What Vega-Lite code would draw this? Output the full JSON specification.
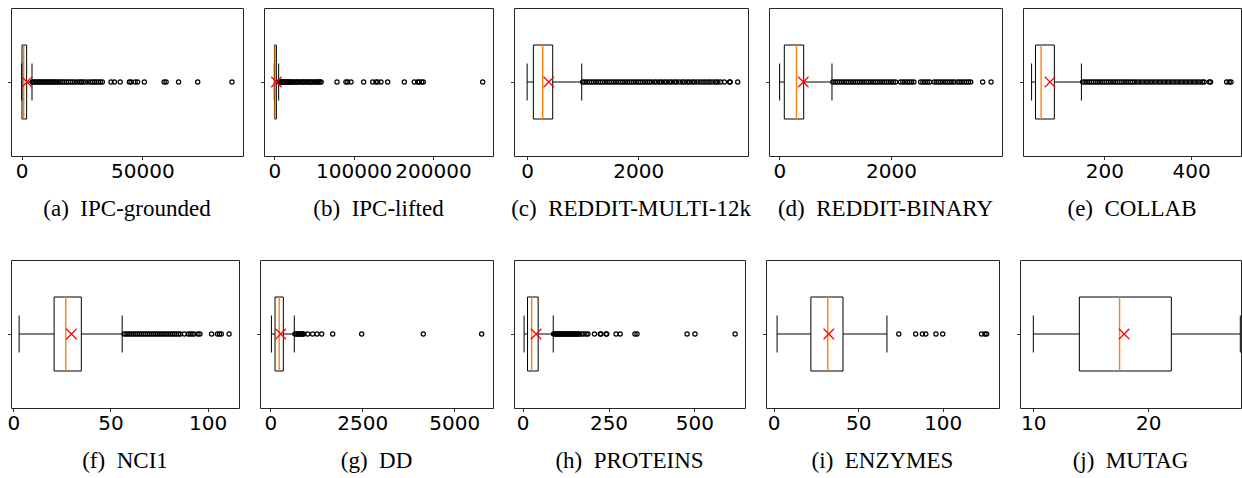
{
"$schema": "https://vega.github.io/schema/vega-lite/v6.json",
"padding": {"left": 6, "top": 7, "right": 0, "bottom": 0},
"background": "white",
"datasets": {
"stats": [
{"ds":"a","lo":0,"q1":120,"med":830,"q3":2050,"hi":4270,"mean":2190},
{"ds":"b","lo":0,"q1":200,"med":1000,"q3":2600,"hi":5500,"mean":2700},
{"ds":"c","lo":2,"q1":114,"med":282,"q3":462,"hi":983,"mean":391},
{"ds":"d","lo":6,"q1":90,"med":308,"q3":437,"hi":943,"mean":430},
{"ds":"e","lo":32,"q1":41,"med":54,"q3":84.5,"hi":147,"mean":74.5},
{"ds":"f","lo":3,"q1":21,"med":27,"q3":35,"hi":56,"mean":29.9},
{"ds":"g","lo":30,"q1":128,"med":241,"q3":354,"hi":652,"mean":284},
{"ds":"h","lo":4,"q1":14,"med":26,"q3":45,"hi":89,"mean":39},
{"ds":"i","lo":2,"q1":22,"med":32,"q3":41,"hi":67,"mean":32.6},
{"ds":"j","lo":10,"q1":14,"med":17.5,"q3":22,"hi":28,"mean":17.9}
],
"out": [
{"ds":"a","v":4400},{"ds":"a","v":5000},{"ds":"a","v":5600},{"ds":"a","v":6200},{"ds":"a","v":6800},{"ds":"a","v":7400},{"ds":"a","v":8000},{"ds":"a","v":8600},{"ds":"a","v":9200},{"ds":"a","v":9800},{"ds":"a","v":10400},{"ds":"a","v":11000},{"ds":"a","v":11600},{"ds":"a","v":12200},{"ds":"a","v":12800},{"ds":"a","v":13400},{"ds":"a","v":14000},{"ds":"a","v":14700},{"ds":"a","v":15400},{"ds":"a","v":16100},{"ds":"a","v":16900},{"ds":"a","v":17700},{"ds":"a","v":18500},{"ds":"a","v":19300},{"ds":"a","v":20200},{"ds":"a","v":21100},{"ds":"a","v":22000},{"ds":"a","v":23000},{"ds":"a","v":24000},{"ds":"a","v":24600},{"ds":"a","v":25400},{"ds":"a","v":26400},{"ds":"a","v":27500},{"ds":"a","v":28600},{"ds":"a","v":29400},{"ds":"a","v":30200},{"ds":"a","v":31000},{"ds":"a","v":31800},{"ds":"a","v":32600},{"ds":"a","v":33400},{"ds":"a","v":37000},{"ds":"a","v":38400},{"ds":"a","v":40800},{"ds":"a","v":44600},{"ds":"a","v":45300},{"ds":"a","v":47000},{"ds":"a","v":48000},{"ds":"a","v":50800},{"ds":"a","v":59000},{"ds":"a","v":59800},{"ds":"a","v":65000},{"ds":"a","v":72900},{"ds":"a","v":87100},
{"ds":"b","v":5900},{"ds":"b","v":7000},{"ds":"b","v":8200},{"ds":"b","v":9400},{"ds":"b","v":10600},{"ds":"b","v":11800},{"ds":"b","v":13000},{"ds":"b","v":14200},{"ds":"b","v":15400},{"ds":"b","v":16600},{"ds":"b","v":17800},{"ds":"b","v":19000},{"ds":"b","v":20500},{"ds":"b","v":22000},{"ds":"b","v":24000},{"ds":"b","v":26000},{"ds":"b","v":27500},{"ds":"b","v":29000},{"ds":"b","v":31000},{"ds":"b","v":33000},{"ds":"b","v":35000},{"ds":"b","v":36500},{"ds":"b","v":38000},{"ds":"b","v":40000},{"ds":"b","v":42000},{"ds":"b","v":44000},{"ds":"b","v":45500},{"ds":"b","v":47000},{"ds":"b","v":49000},{"ds":"b","v":51000},{"ds":"b","v":53000},{"ds":"b","v":54500},{"ds":"b","v":56000},{"ds":"b","v":57500},{"ds":"b","v":59000},{"ds":"b","v":79000},{"ds":"b","v":90300},{"ds":"b","v":92500},{"ds":"b","v":96600},{"ds":"b","v":112600},{"ds":"b","v":124000},{"ds":"b","v":128100},{"ds":"b","v":130300},{"ds":"b","v":134400},{"ds":"b","v":142900},{"ds":"b","v":163800},{"ds":"b","v":176400},{"ds":"b","v":180700},{"ds":"b","v":182700},{"ds":"b","v":185700},{"ds":"b","v":187700},{"ds":"b","v":262600},
{"ds":"c","v":1000},{"ds":"c","v":1040},{"ds":"c","v":1080},{"ds":"c","v":1120},{"ds":"c","v":1160},{"ds":"c","v":1200},{"ds":"c","v":1240},{"ds":"c","v":1280},{"ds":"c","v":1320},{"ds":"c","v":1360},{"ds":"c","v":1400},{"ds":"c","v":1440},{"ds":"c","v":1480},{"ds":"c","v":1520},{"ds":"c","v":1560},{"ds":"c","v":1600},{"ds":"c","v":1640},{"ds":"c","v":1680},{"ds":"c","v":1720},{"ds":"c","v":1760},{"ds":"c","v":1800},{"ds":"c","v":1840},{"ds":"c","v":1880},{"ds":"c","v":1920},{"ds":"c","v":1960},{"ds":"c","v":2000},{"ds":"c","v":2040},{"ds":"c","v":2080},{"ds":"c","v":2120},{"ds":"c","v":2160},{"ds":"c","v":2200},{"ds":"c","v":2240},{"ds":"c","v":2290},{"ds":"c","v":2330},{"ds":"c","v":2380},{"ds":"c","v":2420},{"ds":"c","v":2470},{"ds":"c","v":2510},{"ds":"c","v":2560},{"ds":"c","v":2600},{"ds":"c","v":2650},{"ds":"c","v":2690},{"ds":"c","v":2740},{"ds":"c","v":2790},{"ds":"c","v":2830},{"ds":"c","v":2880},{"ds":"c","v":2920},{"ds":"c","v":2970},{"ds":"c","v":3010},{"ds":"c","v":3060},{"ds":"c","v":3110},{"ds":"c","v":3160},{"ds":"c","v":3200},{"ds":"c","v":3250},{"ds":"c","v":3290},{"ds":"c","v":3340},{"ds":"c","v":3390},{"ds":"c","v":3430},{"ds":"c","v":3480},{"ds":"c","v":3546},{"ds":"c","v":3640},{"ds":"c","v":3650},{"ds":"c","v":3786},
{"ds":"d","v":960},{"ds":"d","v":1000},{"ds":"d","v":1040},{"ds":"d","v":1080},{"ds":"d","v":1120},{"ds":"d","v":1160},{"ds":"d","v":1200},{"ds":"d","v":1240},{"ds":"d","v":1280},{"ds":"d","v":1320},{"ds":"d","v":1360},{"ds":"d","v":1400},{"ds":"d","v":1440},{"ds":"d","v":1480},{"ds":"d","v":1520},{"ds":"d","v":1560},{"ds":"d","v":1600},{"ds":"d","v":1640},{"ds":"d","v":1680},{"ds":"d","v":1720},{"ds":"d","v":1760},{"ds":"d","v":1800},{"ds":"d","v":1840},{"ds":"d","v":1880},{"ds":"d","v":1920},{"ds":"d","v":1960},{"ds":"d","v":2000},{"ds":"d","v":2040},{"ds":"d","v":2080},{"ds":"d","v":2170},{"ds":"d","v":2210},{"ds":"d","v":2250},{"ds":"d","v":2290},{"ds":"d","v":2330},{"ds":"d","v":2370},{"ds":"d","v":2410},{"ds":"d","v":2530},{"ds":"d","v":2570},{"ds":"d","v":2610},{"ds":"d","v":2650},{"ds":"d","v":2690},{"ds":"d","v":2770},{"ds":"d","v":2810},{"ds":"d","v":2850},{"ds":"d","v":2890},{"ds":"d","v":2930},{"ds":"d","v":2970},{"ds":"d","v":3010},{"ds":"d","v":3050},{"ds":"d","v":3090},{"ds":"d","v":3130},{"ds":"d","v":3190},{"ds":"d","v":3230},{"ds":"d","v":3270},{"ds":"d","v":3310},{"ds":"d","v":3350},{"ds":"d","v":3390},{"ds":"d","v":3426},{"ds":"d","v":3640},{"ds":"d","v":3790},
{"ds":"e","v":150},{"ds":"e","v":155},{"ds":"e","v":160},{"ds":"e","v":165},{"ds":"e","v":170},{"ds":"e","v":175},{"ds":"e","v":180},{"ds":"e","v":185},{"ds":"e","v":190},{"ds":"e","v":195},{"ds":"e","v":200},{"ds":"e","v":205},{"ds":"e","v":210},{"ds":"e","v":215},{"ds":"e","v":220},{"ds":"e","v":225},{"ds":"e","v":230},{"ds":"e","v":235},{"ds":"e","v":240},{"ds":"e","v":245},{"ds":"e","v":250},{"ds":"e","v":255},{"ds":"e","v":260},{"ds":"e","v":265},{"ds":"e","v":270},{"ds":"e","v":276},{"ds":"e","v":282},{"ds":"e","v":288},{"ds":"e","v":294},{"ds":"e","v":300},{"ds":"e","v":306},{"ds":"e","v":312},{"ds":"e","v":318},{"ds":"e","v":324},{"ds":"e","v":330},{"ds":"e","v":336},{"ds":"e","v":342},{"ds":"e","v":348},{"ds":"e","v":354},{"ds":"e","v":360},{"ds":"e","v":366},{"ds":"e","v":372},{"ds":"e","v":378},{"ds":"e","v":384},{"ds":"e","v":390},{"ds":"e","v":396},{"ds":"e","v":402},{"ds":"e","v":408},{"ds":"e","v":414},{"ds":"e","v":420},{"ds":"e","v":426},{"ds":"e","v":430},{"ds":"e","v":442},{"ds":"e","v":445},{"ds":"e","v":482},{"ds":"e","v":488},{"ds":"e","v":492},
{"ds":"f","v":57},{"ds":"f","v":58},{"ds":"f","v":59},{"ds":"f","v":60},{"ds":"f","v":61},{"ds":"f","v":62},{"ds":"f","v":63},{"ds":"f","v":64},{"ds":"f","v":65},{"ds":"f","v":66},{"ds":"f","v":67},{"ds":"f","v":68},{"ds":"f","v":69},{"ds":"f","v":70},{"ds":"f","v":71},{"ds":"f","v":72},{"ds":"f","v":73},{"ds":"f","v":74},{"ds":"f","v":75},{"ds":"f","v":76},{"ds":"f","v":77},{"ds":"f","v":78},{"ds":"f","v":79},{"ds":"f","v":80},{"ds":"f","v":81},{"ds":"f","v":82},{"ds":"f","v":83},{"ds":"f","v":84},{"ds":"f","v":85},{"ds":"f","v":86},{"ds":"f","v":88},{"ds":"f","v":90},{"ds":"f","v":91},{"ds":"f","v":92},{"ds":"f","v":93},{"ds":"f","v":95},{"ds":"f","v":96},{"ds":"f","v":102},{"ds":"f","v":105},{"ds":"f","v":106},{"ds":"f","v":107},{"ds":"f","v":111},
{"ds":"g","v":670},{"ds":"g","v":700},{"ds":"g","v":730},{"ds":"g","v":760},{"ds":"g","v":790},{"ds":"g","v":820},{"ds":"g","v":850},{"ds":"g","v":880},{"ds":"g","v":910},{"ds":"g","v":1016},{"ds":"g","v":1152},{"ds":"g","v":1269},{"ds":"g","v":1397},{"ds":"g","v":1695},{"ds":"g","v":2483},{"ds":"g","v":4157},{"ds":"g","v":5743},
{"ds":"h","v":90},{"ds":"h","v":93},{"ds":"h","v":96},{"ds":"h","v":99},{"ds":"h","v":102},{"ds":"h","v":105},{"ds":"h","v":108},{"ds":"h","v":111},{"ds":"h","v":114},{"ds":"h","v":117},{"ds":"h","v":120},{"ds":"h","v":123},{"ds":"h","v":126},{"ds":"h","v":129},{"ds":"h","v":132},{"ds":"h","v":135},{"ds":"h","v":138},{"ds":"h","v":141},{"ds":"h","v":144},{"ds":"h","v":147},{"ds":"h","v":150},{"ds":"h","v":153},{"ds":"h","v":156},{"ds":"h","v":159},{"ds":"h","v":162},{"ds":"h","v":165},{"ds":"h","v":172},{"ds":"h","v":178},{"ds":"h","v":185},{"ds":"h","v":190},{"ds":"h","v":209},{"ds":"h","v":226},{"ds":"h","v":228},{"ds":"h","v":243},{"ds":"h","v":245},{"ds":"h","v":272},{"ds":"h","v":284},{"ds":"h","v":327},{"ds":"h","v":333},{"ds":"h","v":479},{"ds":"h","v":502},{"ds":"h","v":619},
{"ds":"i","v":74},{"ds":"i","v":84},{"ds":"i","v":88},{"ds":"i","v":90},{"ds":"i","v":96},{"ds":"i","v":100},{"ds":"i","v":123},{"ds":"i","v":125},{"ds":"i","v":126}
]
},
"vconcat": [
{"hconcat": [
{"width": 232, "height": 148, "title": "(a)\u00a0 IPC-grounded", "data": {"name": "stats"}, "transform": [{"filter": "datum.ds === 'a'"}],
 "layer": [
 {"mark": "rule", "encoding": {"x": {"field": "lo", "type": "quantitative", "scale": {"domain": [-4432, 91663], "nice": false, "zero": false}, "axis": {"values": [0, 50000], "title": null}}, "x2": {"field": "hi"}, "y": {"datum": 1, "type": "quantitative", "scale": {"domain": [0.5, 1.5], "nice": false, "zero": false}, "axis": {"values": [1], "labels": false, "title": null}}}},
 {"mark": {"type": "rect", "fill": "white", "stroke": "black", "strokeWidth": 1}, "encoding": {"x": {"field": "q1", "type": "quantitative"}, "x2": {"field": "q3"}, "y": {"datum": 0.75}, "y2": {"datum": 1.25}}},
 {"mark": "rule", "encoding": {"x": {"field": "lo", "type": "quantitative"}, "y": {"datum": 0.875}, "y2": {"datum": 1.125}}},
 {"mark": "rule", "encoding": {"x": {"field": "hi", "type": "quantitative"}, "y": {"datum": 0.875}, "y2": {"datum": 1.125}}},
 {"mark": {"type": "rule", "color": "#ff7f0e", "strokeWidth": 1.4}, "encoding": {"x": {"field": "med", "type": "quantitative"}, "y": {"datum": 0.75}, "y2": {"datum": 1.25}}},
 {"data": {"name": "out"}, "transform": [{"filter": "datum.ds === 'a'"}], "mark": {"type": "point", "shape": "circle", "filled": false, "stroke": "black", "strokeWidth": 1.2, "size": 18, "opacity": 1}, "encoding": {"x": {"field": "v", "type": "quantitative"}, "y": {"datum": 1}}},
 {"mark": {"type": "point", "shape": "M-1,-1L1,1M-1,1L1,-1", "filled": false, "stroke": "red", "strokeWidth": 1.2, "size": 110, "opacity": 1}, "encoding": {"x": {"field": "mean", "type": "quantitative"}, "y": {"datum": 1}}}
 ]},
{"width": 229, "height": 148, "title": "(b)\u00a0 IPC-lifted", "data": {"name": "stats"}, "transform": [{"filter": "datum.ds === 'b'"}],
 "layer": [
 {"mark": "rule", "encoding": {"x": {"field": "lo", "type": "quantitative", "scale": {"domain": [-12978, 275562], "nice": false, "zero": false}, "axis": {"values": [0, 100000, 200000], "title": null}}, "x2": {"field": "hi"}, "y": {"datum": 1, "type": "quantitative", "scale": {"domain": [0.5, 1.5], "nice": false, "zero": false}, "axis": {"values": [1], "labels": false, "title": null}}}},
 {"mark": {"type": "rect", "fill": "white", "stroke": "black", "strokeWidth": 1}, "encoding": {"x": {"field": "q1", "type": "quantitative"}, "x2": {"field": "q3"}, "y": {"datum": 0.75}, "y2": {"datum": 1.25}}},
 {"mark": "rule", "encoding": {"x": {"field": "lo", "type": "quantitative"}, "y": {"datum": 0.875}, "y2": {"datum": 1.125}}},
 {"mark": "rule", "encoding": {"x": {"field": "hi", "type": "quantitative"}, "y": {"datum": 0.875}, "y2": {"datum": 1.125}}},
 {"mark": {"type": "rule", "color": "#ff7f0e", "strokeWidth": 1.4}, "encoding": {"x": {"field": "med", "type": "quantitative"}, "y": {"datum": 0.75}, "y2": {"datum": 1.25}}},
 {"data": {"name": "out"}, "transform": [{"filter": "datum.ds === 'b'"}], "mark": {"type": "point", "shape": "circle", "filled": false, "stroke": "black", "strokeWidth": 1.2, "size": 18, "opacity": 1}, "encoding": {"x": {"field": "v", "type": "quantitative"}, "y": {"datum": 1}}},
 {"mark": {"type": "point", "shape": "M-1,-1L1,1M-1,1L1,-1", "filled": false, "stroke": "red", "strokeWidth": 1.2, "size": 110, "opacity": 1}, "encoding": {"x": {"field": "mean", "type": "quantitative"}, "y": {"datum": 1}}}
 ]},
{"width": 234, "height": 148, "title": "(c)\u00a0 REDDIT-MULTI-12k", "data": {"name": "stats"}, "transform": [{"filter": "datum.ds === 'c'"}],
 "layer": [
 {"mark": "rule", "encoding": {"x": {"field": "lo", "type": "quantitative", "scale": {"domain": [-234, 3971], "nice": false, "zero": false}, "axis": {"values": [0, 2000], "title": null}}, "x2": {"field": "hi"}, "y": {"datum": 1, "type": "quantitative", "scale": {"domain": [0.5, 1.5], "nice": false, "zero": false}, "axis": {"values": [1], "labels": false, "title": null}}}},
 {"mark": {"type": "rect", "fill": "white", "stroke": "black", "strokeWidth": 1}, "encoding": {"x": {"field": "q1", "type": "quantitative"}, "x2": {"field": "q3"}, "y": {"datum": 0.75}, "y2": {"datum": 1.25}}},
 {"mark": "rule", "encoding": {"x": {"field": "lo", "type": "quantitative"}, "y": {"datum": 0.875}, "y2": {"datum": 1.125}}},
 {"mark": "rule", "encoding": {"x": {"field": "hi", "type": "quantitative"}, "y": {"datum": 0.875}, "y2": {"datum": 1.125}}},
 {"mark": {"type": "rule", "color": "#ff7f0e", "strokeWidth": 1.4}, "encoding": {"x": {"field": "med", "type": "quantitative"}, "y": {"datum": 0.75}, "y2": {"datum": 1.25}}},
 {"data": {"name": "out"}, "transform": [{"filter": "datum.ds === 'c'"}], "mark": {"type": "point", "shape": "circle", "filled": false, "stroke": "black", "strokeWidth": 1.2, "size": 18, "opacity": 1}, "encoding": {"x": {"field": "v", "type": "quantitative"}, "y": {"datum": 1}}},
 {"mark": {"type": "point", "shape": "M-1,-1L1,1M-1,1L1,-1", "filled": false, "stroke": "red", "strokeWidth": 1.2, "size": 110, "opacity": 1}, "encoding": {"x": {"field": "mean", "type": "quantitative"}, "y": {"datum": 1}}}
 ]},
{"width": 233, "height": 148, "title": "(d)\u00a0 REDDIT-BINARY", "data": {"name": "stats"}, "transform": [{"filter": "datum.ds === 'd'"}],
 "layer": [
 {"mark": "rule", "encoding": {"x": {"field": "lo", "type": "quantitative", "scale": {"domain": [-184, 3986], "nice": false, "zero": false}, "axis": {"values": [0, 2000], "title": null}}, "x2": {"field": "hi"}, "y": {"datum": 1, "type": "quantitative", "scale": {"domain": [0.5, 1.5], "nice": false, "zero": false}, "axis": {"values": [1], "labels": false, "title": null}}}},
 {"mark": {"type": "rect", "fill": "white", "stroke": "black", "strokeWidth": 1}, "encoding": {"x": {"field": "q1", "type": "quantitative"}, "x2": {"field": "q3"}, "y": {"datum": 0.75}, "y2": {"datum": 1.25}}},
 {"mark": "rule", "encoding": {"x": {"field": "lo", "type": "quantitative"}, "y": {"datum": 0.875}, "y2": {"datum": 1.125}}},
 {"mark": "rule", "encoding": {"x": {"field": "hi", "type": "quantitative"}, "y": {"datum": 0.875}, "y2": {"datum": 1.125}}},
 {"mark": {"type": "rule", "color": "#ff7f0e", "strokeWidth": 1.4}, "encoding": {"x": {"field": "med", "type": "quantitative"}, "y": {"datum": 0.75}, "y2": {"datum": 1.25}}},
 {"data": {"name": "out"}, "transform": [{"filter": "datum.ds === 'd'"}], "mark": {"type": "point", "shape": "circle", "filled": false, "stroke": "black", "strokeWidth": 1.2, "size": 18, "opacity": 1}, "encoding": {"x": {"field": "v", "type": "quantitative"}, "y": {"datum": 1}}},
 {"mark": {"type": "point", "shape": "M-1,-1L1,1M-1,1L1,-1", "filled": false, "stroke": "red", "strokeWidth": 1.2, "size": 110, "opacity": 1}, "encoding": {"x": {"field": "mean", "type": "quantitative"}, "y": {"datum": 1}}}
 ]},
{"width": 218, "height": 148, "title": "(e)\u00a0 COLLAB", "data": {"name": "stats"}, "transform": [{"filter": "datum.ds === 'e'"}],
 "layer": [
 {"mark": "rule", "encoding": {"x": {"field": "lo", "type": "quantitative", "scale": {"domain": [12.2, 515.2], "nice": false, "zero": false}, "axis": {"values": [200, 400], "title": null}}, "x2": {"field": "hi"}, "y": {"datum": 1, "type": "quantitative", "scale": {"domain": [0.5, 1.5], "nice": false, "zero": false}, "axis": {"values": [1], "labels": false, "title": null}}}},
 {"mark": {"type": "rect", "fill": "white", "stroke": "black", "strokeWidth": 1}, "encoding": {"x": {"field": "q1", "type": "quantitative"}, "x2": {"field": "q3"}, "y": {"datum": 0.75}, "y2": {"datum": 1.25}}},
 {"mark": "rule", "encoding": {"x": {"field": "lo", "type": "quantitative"}, "y": {"datum": 0.875}, "y2": {"datum": 1.125}}},
 {"mark": "rule", "encoding": {"x": {"field": "hi", "type": "quantitative"}, "y": {"datum": 0.875}, "y2": {"datum": 1.125}}},
 {"mark": {"type": "rule", "color": "#ff7f0e", "strokeWidth": 1.4}, "encoding": {"x": {"field": "med", "type": "quantitative"}, "y": {"datum": 0.75}, "y2": {"datum": 1.25}}},
 {"data": {"name": "out"}, "transform": [{"filter": "datum.ds === 'e'"}], "mark": {"type": "point", "shape": "circle", "filled": false, "stroke": "black", "strokeWidth": 1.2, "size": 18, "opacity": 1}, "encoding": {"x": {"field": "v", "type": "quantitative"}, "y": {"datum": 1}}},
 {"mark": {"type": "point", "shape": "M-1,-1L1,1M-1,1L1,-1", "filled": false, "stroke": "red", "strokeWidth": 1.2, "size": 110, "opacity": 1}, "encoding": {"x": {"field": "mean", "type": "quantitative"}, "y": {"datum": 1}}}
 ]}
], "spacing": 21, "bounds": "flush"},
{"hconcat": [
{"width": 228, "height": 148, "title": "(f)\u00a0 NCI1", "data": {"name": "stats"}, "transform": [{"filter": "datum.ds === 'f'"}],
 "layer": [
 {"mark": "rule", "encoding": {"x": {"field": "lo", "type": "quantitative", "scale": {"domain": [-1.18, 116.1], "nice": false, "zero": false}, "axis": {"values": [0, 50, 100], "title": null}}, "x2": {"field": "hi"}, "y": {"datum": 1, "type": "quantitative", "scale": {"domain": [0.5, 1.5], "nice": false, "zero": false}, "axis": {"values": [1], "labels": false, "title": null}}}},
 {"mark": {"type": "rect", "fill": "white", "stroke": "black", "strokeWidth": 1}, "encoding": {"x": {"field": "q1", "type": "quantitative"}, "x2": {"field": "q3"}, "y": {"datum": 0.75}, "y2": {"datum": 1.25}}},
 {"mark": "rule", "encoding": {"x": {"field": "lo", "type": "quantitative"}, "y": {"datum": 0.875}, "y2": {"datum": 1.125}}},
 {"mark": "rule", "encoding": {"x": {"field": "hi", "type": "quantitative"}, "y": {"datum": 0.875}, "y2": {"datum": 1.125}}},
 {"mark": {"type": "rule", "color": "#ff7f0e", "strokeWidth": 1.4}, "encoding": {"x": {"field": "med", "type": "quantitative"}, "y": {"datum": 0.75}, "y2": {"datum": 1.25}}},
 {"data": {"name": "out"}, "transform": [{"filter": "datum.ds === 'f'"}], "mark": {"type": "point", "shape": "circle", "filled": false, "stroke": "black", "strokeWidth": 1.2, "size": 18, "opacity": 1}, "encoding": {"x": {"field": "v", "type": "quantitative"}, "y": {"datum": 1}}},
 {"mark": {"type": "point", "shape": "M-1,-1L1,1M-1,1L1,-1", "filled": false, "stroke": "red", "strokeWidth": 1.2, "size": 110, "opacity": 1}, "encoding": {"x": {"field": "mean", "type": "quantitative"}, "y": {"datum": 1}}}
 ]},
{"width": 233, "height": 148, "title": "(g)\u00a0 DD", "data": {"name": "stats"}, "transform": [{"filter": "datum.ds === 'g'"}],
 "layer": [
 {"mark": "rule", "encoding": {"x": {"field": "lo", "type": "quantitative", "scale": {"domain": [-280, 6051], "nice": false, "zero": false}, "axis": {"values": [0, 2500, 5000], "title": null}}, "x2": {"field": "hi"}, "y": {"datum": 1, "type": "quantitative", "scale": {"domain": [0.5, 1.5], "nice": false, "zero": false}, "axis": {"values": [1], "labels": false, "title": null}}}},
 {"mark": {"type": "rect", "fill": "white", "stroke": "black", "strokeWidth": 1}, "encoding": {"x": {"field": "q1", "type": "quantitative"}, "x2": {"field": "q3"}, "y": {"datum": 0.75}, "y2": {"datum": 1.25}}},
 {"mark": "rule", "encoding": {"x": {"field": "lo", "type": "quantitative"}, "y": {"datum": 0.875}, "y2": {"datum": 1.125}}},
 {"mark": "rule", "encoding": {"x": {"field": "hi", "type": "quantitative"}, "y": {"datum": 0.875}, "y2": {"datum": 1.125}}},
 {"mark": {"type": "rule", "color": "#ff7f0e", "strokeWidth": 1.4}, "encoding": {"x": {"field": "med", "type": "quantitative"}, "y": {"datum": 0.75}, "y2": {"datum": 1.25}}},
 {"data": {"name": "out"}, "transform": [{"filter": "datum.ds === 'g'"}], "mark": {"type": "point", "shape": "circle", "filled": false, "stroke": "black", "strokeWidth": 1.2, "size": 18, "opacity": 1}, "encoding": {"x": {"field": "v", "type": "quantitative"}, "y": {"datum": 1}}},
 {"mark": {"type": "point", "shape": "M-1,-1L1,1M-1,1L1,-1", "filled": false, "stroke": "red", "strokeWidth": 1.2, "size": 110, "opacity": 1}, "encoding": {"x": {"field": "mean", "type": "quantitative"}, "y": {"datum": 1}}}
 ]},
{"width": 231, "height": 148, "title": "(h)\u00a0 PROTEINS", "data": {"name": "stats"}, "transform": [{"filter": "datum.ds === 'h'"}],
 "layer": [
 {"mark": "rule", "encoding": {"x": {"field": "lo", "type": "quantitative", "scale": {"domain": [-25.4, 647.8], "nice": false, "zero": false}, "axis": {"values": [0, 250, 500], "title": null}}, "x2": {"field": "hi"}, "y": {"datum": 1, "type": "quantitative", "scale": {"domain": [0.5, 1.5], "nice": false, "zero": false}, "axis": {"values": [1], "labels": false, "title": null}}}},
 {"mark": {"type": "rect", "fill": "white", "stroke": "black", "strokeWidth": 1}, "encoding": {"x": {"field": "q1", "type": "quantitative"}, "x2": {"field": "q3"}, "y": {"datum": 0.75}, "y2": {"datum": 1.25}}},
 {"mark": "rule", "encoding": {"x": {"field": "lo", "type": "quantitative"}, "y": {"datum": 0.875}, "y2": {"datum": 1.125}}},
 {"mark": "rule", "encoding": {"x": {"field": "hi", "type": "quantitative"}, "y": {"datum": 0.875}, "y2": {"datum": 1.125}}},
 {"mark": {"type": "rule", "color": "#ff7f0e", "strokeWidth": 1.4}, "encoding": {"x": {"field": "med", "type": "quantitative"}, "y": {"datum": 0.75}, "y2": {"datum": 1.25}}},
 {"data": {"name": "out"}, "transform": [{"filter": "datum.ds === 'h'"}], "mark": {"type": "point", "shape": "circle", "filled": false, "stroke": "black", "strokeWidth": 1.2, "size": 18, "opacity": 1}, "encoding": {"x": {"field": "v", "type": "quantitative"}, "y": {"datum": 1}}},
 {"mark": {"type": "point", "shape": "M-1,-1L1,1M-1,1L1,-1", "filled": false, "stroke": "red", "strokeWidth": 1.2, "size": 110, "opacity": 1}, "encoding": {"x": {"field": "mean", "type": "quantitative"}, "y": {"datum": 1}}}
 ]},
{"width": 233, "height": 148, "title": "(i)\u00a0 ENZYMES", "data": {"name": "stats"}, "transform": [{"filter": "datum.ds === 'i'"}],
 "layer": [
 {"mark": "rule", "encoding": {"x": {"field": "lo", "type": "quantitative", "scale": {"domain": [-4.56, 133.3], "nice": false, "zero": false}, "axis": {"values": [0, 50, 100], "title": null}}, "x2": {"field": "hi"}, "y": {"datum": 1, "type": "quantitative", "scale": {"domain": [0.5, 1.5], "nice": false, "zero": false}, "axis": {"values": [1], "labels": false, "title": null}}}},
 {"mark": {"type": "rect", "fill": "white", "stroke": "black", "strokeWidth": 1}, "encoding": {"x": {"field": "q1", "type": "quantitative"}, "x2": {"field": "q3"}, "y": {"datum": 0.75}, "y2": {"datum": 1.25}}},
 {"mark": "rule", "encoding": {"x": {"field": "lo", "type": "quantitative"}, "y": {"datum": 0.875}, "y2": {"datum": 1.125}}},
 {"mark": "rule", "encoding": {"x": {"field": "hi", "type": "quantitative"}, "y": {"datum": 0.875}, "y2": {"datum": 1.125}}},
 {"mark": {"type": "rule", "color": "#ff7f0e", "strokeWidth": 1.4}, "encoding": {"x": {"field": "med", "type": "quantitative"}, "y": {"datum": 0.75}, "y2": {"datum": 1.25}}},
 {"data": {"name": "out"}, "transform": [{"filter": "datum.ds === 'i'"}], "mark": {"type": "point", "shape": "circle", "filled": false, "stroke": "black", "strokeWidth": 1.2, "size": 18, "opacity": 1}, "encoding": {"x": {"field": "v", "type": "quantitative"}, "y": {"datum": 1}}},
 {"mark": {"type": "point", "shape": "M-1,-1L1,1M-1,1L1,-1", "filled": false, "stroke": "red", "strokeWidth": 1.2, "size": 110, "opacity": 1}, "encoding": {"x": {"field": "mean", "type": "quantitative"}, "y": {"datum": 1}}}
 ]},
{"width": 221, "height": 148, "title": "(j)\u00a0 MUTAG", "data": {"name": "stats"}, "transform": [{"filter": "datum.ds === 'j'"}],
 "layer": [
 {"mark": "rule", "encoding": {"x": {"field": "lo", "type": "quantitative", "scale": {"domain": [8.84, 28.06], "nice": false, "zero": false}, "axis": {"values": [10, 20], "title": null}}, "x2": {"field": "hi"}, "y": {"datum": 1, "type": "quantitative", "scale": {"domain": [0.5, 1.5], "nice": false, "zero": false}, "axis": {"values": [1], "labels": false, "title": null}}}},
 {"mark": {"type": "rect", "fill": "white", "stroke": "black", "strokeWidth": 1}, "encoding": {"x": {"field": "q1", "type": "quantitative"}, "x2": {"field": "q3"}, "y": {"datum": 0.75}, "y2": {"datum": 1.25}}},
 {"mark": "rule", "encoding": {"x": {"field": "lo", "type": "quantitative"}, "y": {"datum": 0.875}, "y2": {"datum": 1.125}}},
 {"mark": "rule", "encoding": {"x": {"field": "hi", "type": "quantitative"}, "y": {"datum": 0.875}, "y2": {"datum": 1.125}}},
 {"mark": {"type": "rule", "color": "#ff7f0e", "strokeWidth": 1.4}, "encoding": {"x": {"field": "med", "type": "quantitative"}, "y": {"datum": 0.75}, "y2": {"datum": 1.25}}},
 {"mark": {"type": "point", "shape": "M-1,-1L1,1M-1,1L1,-1", "filled": false, "stroke": "red", "strokeWidth": 1.2, "size": 110, "opacity": 1}, "encoding": {"x": {"field": "mean", "type": "quantitative"}, "y": {"datum": 1}}}
 ]}
], "spacing": 21, "bounds": "flush"}
],
"spacing": 252,
"bounds": "flush",
"config": {
 "view": {"stroke": "#262626", "strokeWidth": 1},
 "axis": {"grid": false, "domain": false, "tickColor": "black", "tickWidth": 0.8, "tickSize": 3.5, "labelFont": "DejaVu Sans", "labelFontSize": 20, "labelColor": "black", "labelPadding": 1.5, "labelFlush": false, "labelOverlap": false, "format": "d"},
 "title": {"orient": "bottom", "frame": "group", "font": "Liberation Serif", "fontSize": 23, "fontWeight": "normal", "color": "black", "offset": 17},
 "rule": {"color": "black", "strokeWidth": 1}
}
}
